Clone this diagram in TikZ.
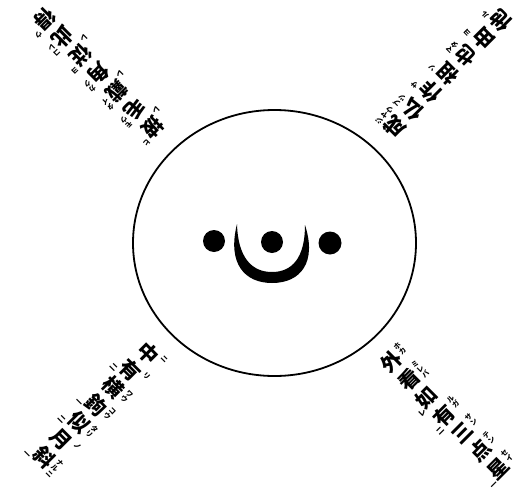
\documentclass[tikz,border=0pt]{standalone}
\usepackage{fontspec}
\usepackage{tikz}
\usetikzlibrary{positioning}
\newfontfamily\jpfont{Noto Sans CJK JP}

\begin{document}
\begin{tikzpicture}[x=1pt,y=-1pt,
    kanji/.style={font=\jpfont\bfseries\fontsize{20.5}{20.5}\selectfont,inner sep=0pt},
    kana/.style={font=\jpfont\bfseries\fontsize{7}{7.4}\selectfont,inner sep=0pt,align=center},
    kaeri/.style={font=\jpfont\bfseries\fontsize{7.5}{7.5}\selectfont,inner sep=0pt},
    blackdot/.style={fill=black}]
  \useasboundingbox (0,0) rectangle (528,493);

  % heart: circle, three dots and the hook
  \draw[line width=1.8pt] (274.5,243) ellipse [x radius=141.5pt,y radius=133pt];
  \fill[blackdot] (214,241) circle [radius=11pt];
  \fill[blackdot] (272,242) circle [radius=11pt];
  \fill[blackdot] (330,243) circle [radius=11.5pt];
  \fill[blackdot] (237,224) .. controls (227,264) and (245,283) .. (272,283)
    .. controls (301,283) and (317,262) .. (305,225)
    .. controls (305,258) and (292,272) .. (272,272)
    .. controls (252,272) and (238,258) .. (237,224) -- cycle;

  % bottom right
  \begin{scope}[shift={(391,362)},rotate=45,transform shape]
    \foreach \kj/\kn/\km [count=\i] in {外/{ホ\\カ}/,看/{ミ\\レ\\バ}/,如//レ,
        有/{ル\\ガ}/二,三/{サ\\ン}/,点/{テ\\ン}/,星/{セ\\イ}/一}{
      \node[kanji] (br\i) at (0,{(\i-1)*25.2}) {\kj};
      \node[kana,anchor=north west] (brf\i) at (12,{(\i-1)*25.2-10}) {\kn};
      \node[kaeri,anchor=south east] (brk\i) at (-10,{(\i-1)*25.2+11}) {\km};
    }
  \end{scope}

  % bottom left
  \begin{scope}[shift={(148,353)},rotate=-45,transform shape]
    \foreach \kj/\kn/\km [count=\i] in {中/ニ/,有/リ/二,横/{ワ\\ウ}/,鉤/{コ\\ウ}/一,
        似/{タ\\リ}/二,月/ノ/,斜/{ナ\\ル\\ニ}/一}{
      \node[kanji] (bl\i) at (0,{(\i-1)*24.5}) {\kj};
      \node[kana,anchor=north west] (blf\i) at (12,{(\i-1)*24.5-10}) {\kn};
      \node[kaeri,anchor=south east] (blk\i) at (-10,{(\i-1)*24.5+13}) {\km};
    }
  \end{scope}

  % top left
  \begin{scope}[shift={(153,127)},rotate=-135,transform shape]
    \foreach \kj/\kn/\km [count=\i] in {披/ヒ/レ,毛/{モ\\ウ}/,戴/{タ\\イ}/レ,
        角/{カ\\ク}/,従/ヨ/レ,此/{コ\\レ}/,得/ウ/}{
      \node[kanji] (tl\i) at (0,{(\i-1)*25.5}) {\kj};
      \node[kana,anchor=north west] (tlf\i) at (12,{(\i-1)*25.5-10}) {\kn};
      \node[kaeri,anchor=south east] (tlk\i) at (-10,{(\i-1)*25.5+13}) {\km};
    }
  \end{scope}

  % top right
  \begin{scope}[shift={(395,127)},rotate=135,transform shape]
    \foreach \kj/\kn/\km [count=\i] in {成/{ジ\\ヤ\\ウ}/,仏/{ブ\\ツ}/,作/サ/,
        祖/ソ/,也/{マ\\タ}/,由/ヨ/,他/ル/}{
      \node[kanji] (tr\i) at (0,{(\i-1)*25}) {\kj};
      \node[kana,anchor=north west] (trf\i) at (12,{(\i-1)*25-10}) {\kn};
      \node[kaeri,anchor=south east] (trk\i) at (-10,{(\i-1)*25+13}) {\km};
    }
  \end{scope}
\end{tikzpicture}
\end{document}
